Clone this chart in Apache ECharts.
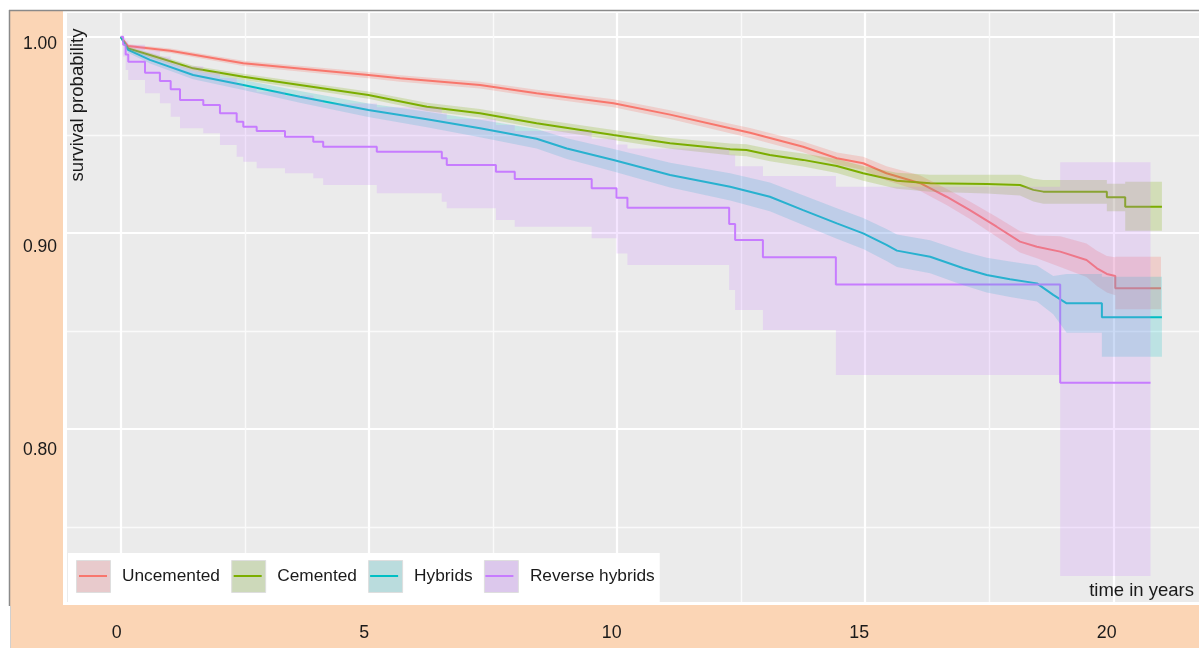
<!DOCTYPE html>
<html>
<head>
<meta charset="utf-8">
<script src="https://cdn.jsdelivr.net/npm/echarts@6.0.0/dist/echarts.min.js"></script>
<style>
html,body{margin:0;padding:0;background:#fff;}
#chart{width:1199px;height:648px;}
</style>
</head>
<body>
<div id="chart"></div>
<script>
// ---------- data ----------
const groupNames = ['Uncemented', 'Cemented', 'Hybrids', 'Reverse hybrids'];
const xTickLabels = ['0', '5', '10', '15', '20'];
const yTickLabels = ['0.80', '0.90', '1.00'];

const uncTime = [0, 0.15, 1.0, 2.47, 4.99, 5.63, 7.24, 8.38, 9.93, 11.07, 12.28, 12.68, 13.75, 14.43, 14.96, 15.43, 16.11, 16.64, 17.11, 17.65, 18.12, 18.46, 18.93, 19.46, 19.67, 19.87, 20.04, 20.04, 20.96];
const uncSurv = [1, 0.9953, 0.9929, 0.9865, 0.9805, 0.9788, 0.9754, 0.9712, 0.9661, 0.9603, 0.9533, 0.951, 0.9439, 0.938, 0.9355, 0.9304, 0.9253, 0.9184, 0.9116, 0.9031, 0.8955, 0.8929, 0.8904, 0.8861, 0.8819, 0.879, 0.878, 0.8717, 0.8717];
const uncLow  = [1, 0.9943, 0.9917, 0.9851, 0.9789, 0.9771, 0.9736, 0.9693, 0.9640, 0.9580, 0.9508, 0.9484, 0.9411, 0.9349, 0.9321, 0.9267, 0.9213, 0.9142, 0.9070, 0.8980, 0.8900, 0.8870, 0.8825, 0.8775, 0.8728, 0.8695, 0.8682, 0.8610, 0.8610];
const uncHigh = [1, 0.9962, 0.9940, 0.9878, 0.9820, 0.9804, 0.9771, 0.9730, 0.9681, 0.9625, 0.9557, 0.9535, 0.9466, 0.9410, 0.9388, 0.9340, 0.9292, 0.9225, 0.9160, 0.9080, 0.9008, 0.8986, 0.8982, 0.8945, 0.8908, 0.8882, 0.8875, 0.8878, 0.8878];

const cemTime = [0, 0.15, 0.59, 1.46, 2.47, 3.61, 4.99, 6.17, 7.24, 8.38, 9.93, 11.07, 12.28, 12.61, 13.08, 13.75, 14.43, 14.96, 15.64, 16.31, 17.45, 18.12, 18.39, 18.59, 19.87, 19.87, 20.24, 20.24, 20.98];
const cemSurv = [1, 0.9941, 0.9907, 0.9839, 0.9796, 0.9754, 0.9703, 0.9643, 0.961, 0.9559, 0.9499, 0.9457, 0.9426, 0.9422, 0.9397, 0.9372, 0.9341, 0.9304, 0.9266, 0.9253, 0.9249, 0.9244, 0.9219, 0.921, 0.921, 0.9181, 0.9181, 0.9133, 0.9133];
const cemLow  = [1, 0.9931, 0.9895, 0.9825, 0.9780, 0.9736, 0.9684, 0.9622, 0.9588, 0.9535, 0.9473, 0.9429, 0.9396, 0.9391, 0.9365, 0.9338, 0.9305, 0.9266, 0.9225, 0.9209, 0.9200, 0.9190, 0.9160, 0.9148, 0.9148, 0.9110, 0.9110, 0.9010, 0.9010];
const cemHigh = [1, 0.9950, 0.9918, 0.9852, 0.9811, 0.9771, 0.9721, 0.9663, 0.9631, 0.9582, 0.9524, 0.9484, 0.9455, 0.9452, 0.9428, 0.9405, 0.9376, 0.9341, 0.9306, 0.9296, 0.9296, 0.9296, 0.9276, 0.9270, 0.9270, 0.9250, 0.9250, 0.9260, 0.9260];

const hybTime = [0, 0.15, 0.59, 1.46, 2.47, 3.61, 4.99, 6.17, 7.24, 8.38, 8.99, 9.93, 11.07, 12.28, 13.08, 13.75, 14.43, 14.96, 15.43, 15.64, 16.31, 16.98, 17.45, 17.92, 18.46, 18.79, 19.06, 19.77, 19.77, 20.98];
const hybSurv = [1, 0.9933, 0.9882, 0.9805, 0.9754, 0.9694, 0.9626, 0.9579, 0.9533, 0.948, 0.943, 0.9371, 0.9295, 0.9235, 0.9184, 0.9116, 0.9048, 0.8997, 0.8938, 0.8909, 0.8878, 0.8819, 0.8785, 0.8763, 0.8742, 0.8683, 0.864, 0.864, 0.8569, 0.8569];
const hybLow  = [1, 0.9918, 0.9864, 0.9783, 0.9728, 0.9664, 0.9591, 0.9539, 0.9488, 0.9430, 0.9377, 0.9313, 0.9231, 0.9165, 0.9110, 0.9040, 0.8970, 0.8917, 0.8856, 0.8826, 0.8793, 0.8732, 0.8696, 0.8672, 0.8650, 0.8585, 0.8490, 0.8490, 0.8368, 0.8368];
const hybHigh = [1, 0.9947, 0.9899, 0.9826, 0.9779, 0.9723, 0.9660, 0.9618, 0.9577, 0.9530, 0.9483, 0.9428, 0.9358, 0.9304, 0.9257, 0.9191, 0.9125, 0.9076, 0.9019, 0.8991, 0.8962, 0.8905, 0.8873, 0.8853, 0.8833, 0.8780, 0.8790, 0.8790, 0.8776, 0.8776];

const revTime = [0, 0.05, 0.1, 0.153, 0.49, 0.79, 1.007, 1.195, 1.664, 2.0, 2.337, 2.47, 2.74, 3.31, 3.88, 4.08, 5.16, 6.47, 6.57, 7.56, 7.94, 9.49, 9.99, 10.21, 12.26, 12.38, 12.94, 14.41, 18.93, 20.75];
const revSurv = [1, 0.996, 0.991, 0.9873, 0.9817, 0.9774, 0.9732, 0.9678, 0.9652, 0.961, 0.9567, 0.9541, 0.9519, 0.949, 0.9465, 0.9439, 0.9414, 0.938, 0.9346, 0.9312, 0.9274, 0.9227, 0.9179, 0.9128, 0.9045, 0.8963, 0.8875, 0.8736, 0.8235, 0.8235];
const revLow  = [1, 0.990, 0.983, 0.978, 0.9712, 0.9661, 0.9592, 0.9533, 0.9508, 0.9448, 0.9388, 0.9363, 0.9329, 0.9304, 0.9278, 0.9244, 0.9202, 0.9159, 0.9125, 0.9065, 0.9031, 0.8972, 0.8895, 0.8836, 0.8708, 0.8606, 0.8504, 0.8274, 0.7249, 0.7249];
const revHigh = [1, 0.999, 0.998, 0.996, 0.993, 0.990, 0.987, 0.985, 0.982, 0.979, 0.976, 0.974, 0.972, 0.970, 0.968, 0.966, 0.964, 0.961, 0.958, 0.955, 0.952, 0.948, 0.945, 0.943, 0.940, 0.934, 0.929, 0.9235, 0.936, 0.936];

// ---------- styles ----------
const FONT = '"Liberation Sans", Arial, Helvetica, sans-serif';
const TEXT = '#1a1a1a';
const PEACH = '#FBD5B5';
const lineColors = ['#F8766D', '#7CAE00', '#00BFC4', '#C77CFF'];
const bandColors = ['rgba(248,118,109,0.25)', 'rgba(124,174,0,0.22)', 'rgba(0,191,196,0.2)', 'rgba(199,124,255,0.2)'];
const keyColors = ['#E8CACC', '#CDD9BA', '#BADCDD', '#DCC8EC'];

function pairs(t, s) { return t.map((v, i) => [v, s[i]]); }

function lineSeries(idx, t, s, step) {
  return {
    type: 'line', name: groupNames[idx], xAxisIndex: 0, yAxisIndex: 0,
    data: pairs(t, s), step: step ? 'end' : false,
    symbol: 'none', showSymbol: false, silent: true, z: 2,
    lineStyle: { color: lineColors[idx], width: 2 },
    itemStyle: { color: lineColors[idx] }
  };
}

function bandSeries(idx, t, lo, hi, step) {
  return {
    type: 'custom', name: groupNames[idx], xAxisIndex: 0, yAxisIndex: 0,
    silent: true, z: 3,
    data: [[t[0], hi[0]]],
    itemStyle: { color: lineColors[idx] },
    renderItem: function (params, api) {
      const pts = [];
      for (let i = 0; i < t.length; i++) {
        if (step && i > 0) pts.push(api.coord([t[i], hi[i - 1]]));
        pts.push(api.coord([t[i], hi[i]]));
      }
      for (let i = t.length - 1; i >= 0; i--) {
        pts.push(api.coord([t[i], lo[i]]));
        if (step && i > 0) pts.push(api.coord([t[i], lo[i - 1]]));
      }
      return { type: 'polygon', shape: { points: pts }, style: { fill: bandColors[idx] } };
    }
  };
}

const chart = echarts.init(document.getElementById('chart'), null, { renderer: 'canvas' });

const gridLine = { show: true, lineStyle: { color: '#ffffff', width: 2.2 } };
const minorLine = { show: true, lineStyle: { color: '#fafafa', width: 1.4 } };

const lineIcon = 'path://M0,0h0.01v0.01h-0.01z M0,15h28v2h-28z M27.99,31.99h0.01v0.01h-0.01z';

const option = {
  animation: false,
  backgroundColor: '#ffffff',
  grid: [
    { left: -127.45, right: -162.45, top: -159.2, bottom: 23.2, show: true, backgroundColor: '#EBEBEB', borderWidth: 0, outerBoundsMode: 'none', containLabel: false },
    { left: 65, width: 100, top: -159.5, bottom: -5.2, show: false, outerBoundsMode: 'none', containLabel: false },
    { left: -130.8, right: -155.2, top: 500, bottom: 26, show: false, outerBoundsMode: 'none', containLabel: false }
  ],
  xAxis: [
    { gridIndex: 0, type: 'value', min: -5, max: 25, interval: 5,
      axisLine: { show: false }, axisTick: { show: false }, axisLabel: { show: false },
      splitLine: gridLine, minorTick: { show: false, splitNumber: 2 }, minorSplitLine: minorLine },
    { gridIndex: 1, type: 'value', show: false },
    { gridIndex: 2, type: 'value', min: -5, max: 25, interval: 5, position: 'bottom', z: 200,
      axisLine: { show: false }, axisTick: { show: false }, splitLine: { show: false },
      axisLabel: { margin: 2, fontSize: 17.8, color: TEXT, fontFamily: FONT,
        formatter: v => { const s = String(Math.round(v)); return xTickLabels.includes(s) ? s : ''; } } }
  ],
  yAxis: [
    { gridIndex: 0, type: 'value', min: 0.7, max: 1.1, interval: 0.1,
      axisLine: { show: false }, axisTick: { show: false }, axisLabel: { show: false },
      splitLine: gridLine, minorTick: { show: false, splitNumber: 2 }, minorSplitLine: minorLine },
    { gridIndex: 1, type: 'value', min: 0.7, max: 1.1, interval: 0.1, position: 'left', z: 200,
      axisLine: { show: false }, axisTick: { show: false }, splitLine: { show: false },
      axisLabel: { margin: 8, fontSize: 17.5, color: TEXT, fontFamily: FONT,
        formatter: v => { const s = Number(v).toFixed(2); return yTickLabels.includes(s) ? s : ''; } } },
    { gridIndex: 2, type: 'value', show: false }
  ],
  legend: [
    { id: 'legKeys', z: 10, left: 68, top: 553, orient: 'horizontal', padding: [7, 5, 9, 8],
      backgroundColor: '#ffffff', itemWidth: 34, itemHeight: 32, itemGap: 11.2, icon: 'rect',
      textStyle: { fontSize: 17.3, color: TEXT, fontFamily: FONT, padding: [0, 0, 0, 6.5] },
      data: groupNames.map((n, i) => ({ name: n, itemStyle: { color: keyColors[i], borderColor: '#dedede', borderWidth: 1 } })) },
    { id: 'legLines', z: 11, left: 71, top: 553, orient: 'horizontal', padding: [7, 5, 9, 8],
      itemWidth: 28, itemHeight: 32, itemGap: 17.2, icon: lineIcon,
      textStyle: { fontSize: 17.3, color: 'rgba(0,0,0,0)', fontFamily: FONT, padding: [0, 0, 0, 6.5] },
      data: groupNames.map((n, i) => ({ name: n, itemStyle: { color: lineColors[i], borderWidth: 0 } })) }
  ],
  graphic: [
    { type: 'rect', z: 100, shape: { x: 0, y: 0, width: 67, height: 648 }, style: { fill: '#ffffff' } },
    { type: 'rect', z: 100, shape: { x: 0, y: 0, width: 1199, height: 13 }, style: { fill: '#ffffff' } },
    { type: 'rect', z: 100, shape: { x: 0, y: 602, width: 1199, height: 46 }, style: { fill: '#ffffff' } },
    { type: 'rect', z: 101, shape: { x: 10, y: 11, width: 53, height: 637 }, style: { fill: PEACH } },
    { type: 'rect', z: 101, shape: { x: 10, y: 605, width: 1189, height: 43 }, style: { fill: PEACH } },
    { type: 'line', z: 102, shape: { x1: 9, y1: 10.5, x2: 1199, y2: 10.5 }, style: { stroke: '#8a8a8a', lineWidth: 1.5 } },
    { type: 'line', z: 102, shape: { x1: 9.5, y1: 10, x2: 9.5, y2: 606 }, style: { stroke: '#8a8a8a', lineWidth: 1.5 } },
    { type: 'line', z: 102, shape: { x1: 10.5, y1: 606, x2: 10.5, y2: 648 }, style: { stroke: '#d0d0d0', lineWidth: 1 } },
    { type: 'text', z: 150, x: 78, y: 105, rotation: Math.PI / 2,
      style: { text: 'survival probability', font: '18.6px ' + FONT, fill: TEXT, align: 'center', verticalAlign: 'middle' } },
    { type: 'text', z: 150, x: 1194, y: 591,
      style: { text: 'time in years', font: '18.5px ' + FONT, fill: TEXT, align: 'right', verticalAlign: 'middle' } }
  ],
  series: [
    lineSeries(0, uncTime, uncSurv, false),
    lineSeries(1, cemTime, cemSurv, false),
    lineSeries(2, hybTime, hybSurv, false),
    lineSeries(3, revTime, revSurv, true),
    bandSeries(0, uncTime, uncLow, uncHigh, false),
    bandSeries(1, cemTime, cemLow, cemHigh, false),
    bandSeries(2, hybTime, hybLow, hybHigh, false),
    bandSeries(3, revTime, revLow, revHigh, true)
  ]
};

chart.setOption(option);
</script>
</body>
</html>
